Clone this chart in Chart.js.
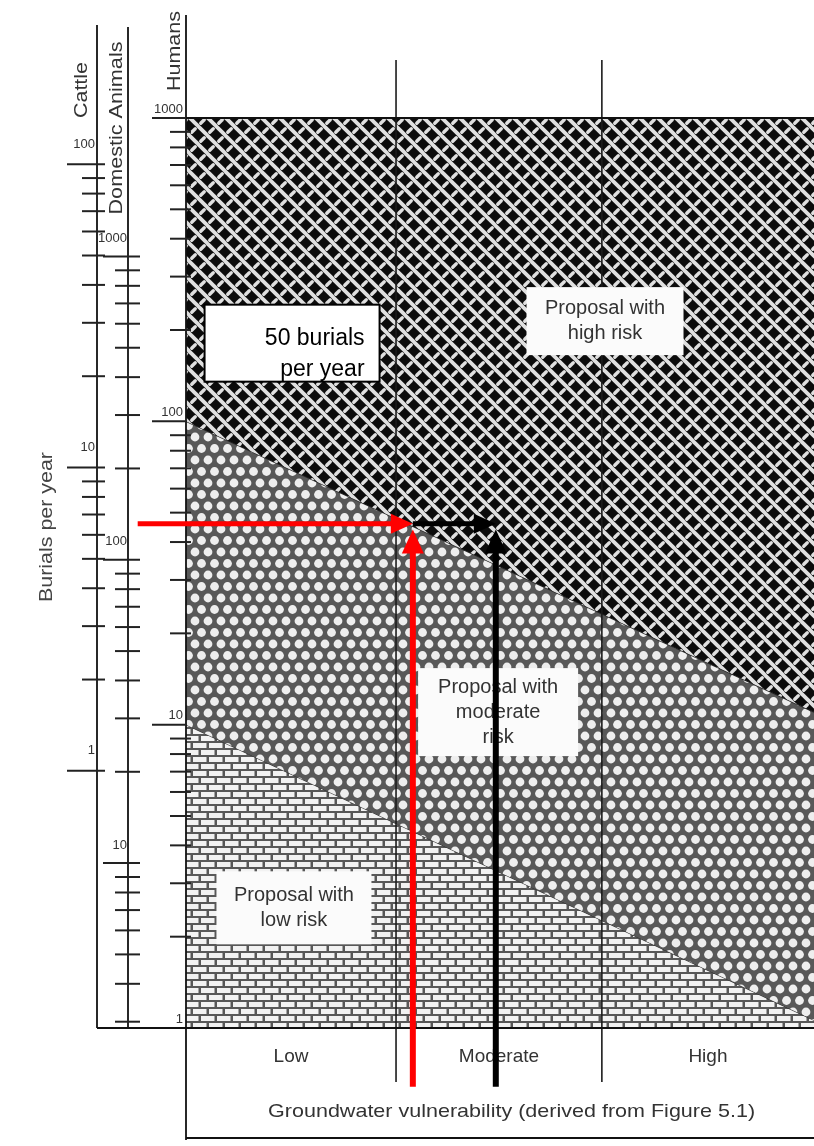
<!DOCTYPE html>
<html><head><meta charset="utf-8">
<script src="https://cdn.jsdelivr.net/npm/chart.js@4.4.1/dist/chart.umd.min.js"></script>
<style>html,body{margin:0;padding:0;background:#fff}canvas{display:block}</style>
</head><body>
<canvas id="c" width="814" height="1146"></canvas>
<script>
// ---------------- DATA ----------------
const categories = ['Low', 'Moderate', 'High'];
const columnEdges = [0, 1, 1.98, 2.99];               // groundwater vulnerability column boundaries
const xAxisTitle = 'Groundwater vulnerability (derived from Figure 5.1)';
const yAxisTitle = 'Burials per year';
const axisTitles = ['Cattle', 'Domestic Animals', 'Humans'];

const humansRange = [1, 1000];
const cattleRange = [0.142, 142];
const domesticRange = [2.86, 2860];

const humansMajor = [1, 10, 100, 1000];
const humansMinor = [2,3,4,5,6,7,8,9,20,30,40,50,60,70,80,90,200,300,400,500,600,700,800,900];
const cattleMajor = [1, 10, 100];
const cattleMinor = [2,3,4,5,6,7,8,9,20,30,40,50,60,70,80,90];
const domesticMajor = [10, 100, 1000];
const domesticMinor = [3,4,5,6,7,8,9,20,30,40,50,60,70,80,90,200,300,400,500,600,700,800,900];

const boundaryX = [0, 2.99];
const topBoundary = [1000, 1000];
const highModerateBoundary = [100, 11];
const moderateLowBoundary = [10, 1.06];

const arrowLevel = 46;            // burials per year (humans scale)
const redArrowX = [-0.23, 1.08];
const blackArrowX = [1.08, 1.475];
const verticalArrowY = [0.64, 44];
const redVerticalX = 1.08;
const blackVerticalX = 1.475;

const regionLabelText = [['Proposal with', 'high risk'], ['Proposal with', 'moderate', 'risk'], ['Proposal with', 'low risk']];
const calloutText = ['50 burials', 'per year'];

// ---------------- LAYOUT (positions in data coords / pixels) ----------------
const regionLabelAnchor = [{x: 1.995, y: 214, w: 157, h: 68}, {x: 1.486, y: 11.0, w: 160, h: 88}, {x: 0.514, y: 2.49, w: 155, h: 73}];
const calloutAnchor = {x: 0.505, y: 181, w: 175, h: 77};
const AX = {cattle: 97, dom: 128, top: 25};

// ---------------- PATTERNS ----------------
function mk(w, h) { const c = document.createElement('canvas'); c.width = w; c.height = h; return c; }
function weavePattern() {
  const s = 18, c = mk(s, s), g = c.getContext('2d');
  g.fillStyle = '#0c0c0c'; g.fillRect(0, 0, s, s);
  g.strokeStyle = '#e0e0e0'; g.lineCap = 'round';
  const bars = [[4.5, 4.5, 1, 10.5, 3.8], [13.5, 13.5, 1, 10.5, 3.8], [13.5, 4.5, -1, 5, 3.4], [4.5, 13.5, -1, 5, 3.4]];
  for (const [cx, cy, d, L, lw] of bars) for (const ox of [-s, 0, s]) for (const oy of [-s, 0, s]) {
    const h = L / 2 / Math.SQRT2; g.lineWidth = lw;
    g.beginPath(); g.moveTo(cx + ox - h, cy + oy - d * h); g.lineTo(cx + ox + h, cy + oy + d * h); g.stroke();
  }
  return g.createPattern(c, 'repeat');
}
function circlePattern() {
  const c = mk(13, 23), g = c.getContext('2d');
  g.fillStyle = '#585858'; g.fillRect(0, 0, 13, 23);
  g.fillStyle = '#eeeeee';
  for (const [x, y] of [[0, 0], [13, 0], [0, 23], [13, 23], [6.5, 11.5]]) { g.beginPath(); g.arc(x, y, 4.4, 0, Math.PI * 2); g.fill(); }
  return g.createPattern(c, 'repeat');
}
function brickPattern() {
  const w = 16, h = 14, c = mk(w, h), g = c.getContext('2d');
  g.fillStyle = '#585858'; g.fillRect(0, 0, w, h);
  g.fillStyle = '#f2f2f2';
  g.fillRect(1, 1, 13.5, 5);
  g.fillRect(-7, 8, 13.5, 5); g.fillRect(9, 8, 13.5, 5);
  return g.createPattern(c, 'repeat');
}

const pts = arr => boundaryX.map((x, i) => ({x, y: arr[i]}));

// ---------------- DRAW HELPERS ----------------
function seg(ctx, x1, y1, x2, y2) { ctx.beginPath(); ctx.moveTo(x1, y1); ctx.lineTo(x2, y2); ctx.stroke(); }
function text(ctx, s, x, y, size, color, align, width) {
  ctx.save(); ctx.font = size + 'px "Liberation Sans", Arial, sans-serif'; ctx.fillStyle = color;
  ctx.textBaseline = 'middle'; ctx.textAlign = align || 'center';
  if (width) { const m = ctx.measureText(s).width; ctx.translate(x, y); ctx.scale(width / m, 1); ctx.fillText(s, 0, 0); }
  else ctx.fillText(s, x, y);
  ctx.restore();
}
function vtext(ctx, s, x, y, size, color, len) {
  ctx.save(); ctx.font = size + 'px "Liberation Sans", Arial, sans-serif'; ctx.fillStyle = color;
  ctx.textBaseline = 'middle'; ctx.textAlign = 'center';
  ctx.translate(x, y); ctx.rotate(-Math.PI / 2);
  if (len) { const m = ctx.measureText(s).width; ctx.scale(len / m, 1); }
  ctx.fillText(s, 0, 0); ctx.restore();
}
function arrow(ctx, x1, y1, x2, y2, color, lw, hl, hw) {
  const a = Math.atan2(y2 - y1, x2 - x1);
  const bx = x2 - hl * Math.cos(a), by = y2 - hl * Math.sin(a);
  ctx.save(); ctx.strokeStyle = color; ctx.fillStyle = color; ctx.lineWidth = lw; ctx.lineCap = 'butt';
  seg(ctx, x1, y1, bx + Math.cos(a), by + Math.sin(a));
  ctx.beginPath(); ctx.moveTo(x2, y2);
  ctx.lineTo(bx - hw * Math.sin(a), by + hw * Math.cos(a));
  ctx.lineTo(bx + hw * Math.sin(a), by - hw * Math.cos(a));
  ctx.closePath(); ctx.fill(); ctx.restore();
}

const decor = {
  id: 'decor',
  afterDatasetsDraw(chart) {
    const ctx = chart.ctx, ca = chart.chartArea;
    const xs = chart.scales.x, yh = chart.scales.y, yc = chart.scales.yCattle, yd = chart.scales.yDom;
    const HX = ca.left;
    ctx.save();
    // column dividers
    ctx.strokeStyle = '#1c1c1c'; ctx.lineWidth = 1.6;
    columnEdges.slice(1, -1).forEach(v => { const px = xs.getPixelForValue(v); seg(ctx, px, 60, px, 1082); });
    // frame lines
    ctx.strokeStyle = '#111'; ctx.lineWidth = 2;
    seg(ctx, HX, ca.top, ca.right, ca.top);
    seg(ctx, AX.cattle, ca.bottom, ca.right, ca.bottom);
    seg(ctx, HX, 1138, ca.right, 1138);
    ctx.lineWidth = 1.8;
    seg(ctx, HX, 15, HX, 1140);
    seg(ctx, AX.cattle, AX.top, AX.cattle, ca.bottom);
    seg(ctx, AX.dom, AX.top + 2, AX.dom, ca.bottom);
    // ticks
    ctx.strokeStyle = '#222'; ctx.lineWidth = 2;
    humansMinor.forEach(v => { const p = yh.getPixelForValue(v); seg(ctx, HX - 16, p, HX + 5, p); });
    humansMajor.forEach(v => { const p = yh.getPixelForValue(v); if (v > humansRange[0]) seg(ctx, HX - 34, p, HX, p); });
    cattleMinor.forEach(v => { const p = yc.getPixelForValue(v); seg(ctx, AX.cattle - 15, p, AX.cattle + 8, p); });
    cattleMajor.forEach(v => { const p = yc.getPixelForValue(v); seg(ctx, AX.cattle - 30, p, AX.cattle + 8, p); });
    domesticMinor.forEach(v => { const p = yd.getPixelForValue(v); seg(ctx, AX.dom - 13, p, AX.dom + 12, p); });
    domesticMajor.forEach(v => { const p = yd.getPixelForValue(v); seg(ctx, AX.dom - 25, p, AX.dom + 12, p); });
    // tick labels
    humansMajor.forEach(v => text(ctx, String(v), HX - 3, yh.getPixelForValue(v) - 9, 13, '#333', 'right'));
    cattleMajor.forEach(v => text(ctx, String(v), AX.cattle - 2, yc.getPixelForValue(v) - 20, 13, '#333', 'right'));
    domesticMajor.forEach(v => text(ctx, String(v), AX.dom - 1, yd.getPixelForValue(v) - 18, 13, '#333', 'right'));
    // axis titles
    vtext(ctx, axisTitles[0], 82, 90, 19, '#333', 56);
    vtext(ctx, axisTitles[1], 117, 128, 19, '#333', 173);
    vtext(ctx, axisTitles[2], 175, 51, 19, '#333', 80);
    vtext(ctx, yAxisTitle, 47, 527, 18, '#444', 150);
    // category labels
    categories.forEach((c, i) => {
      const px = xs.getPixelForValue((columnEdges[i] + columnEdges[i + 1]) / 2);
      text(ctx, c, px, 1057, 19, '#333', 'center');
    });
    text(ctx, xAxisTitle, xs.getPixelForValue(1.55), 1112, 19, '#333', 'center', 487);
    // region labels
    regionLabelText.forEach((lines, i) => {
      const a = regionLabelAnchor[i];
      const cx = xs.getPixelForValue(a.x), cy = yh.getPixelForValue(a.y);
      ctx.fillStyle = '#fbfbfb'; ctx.fillRect(cx - a.w / 2, cy - a.h / 2, a.w, a.h);
      const n = lines.length, lh = 25;
      lines.forEach((s, j) => text(ctx, s, cx, cy + (j - (n - 1) / 2) * lh, 20, '#333', 'center'));
    });
    // callout box
    {
      const a = calloutAnchor;
      const cx = xs.getPixelForValue(a.x), cy = yh.getPixelForValue(a.y);
      ctx.fillStyle = '#fff'; ctx.fillRect(cx - a.w / 2, cy - a.h / 2, a.w, a.h);
      ctx.strokeStyle = '#000'; ctx.lineWidth = 2; ctx.strokeRect(cx - a.w / 2, cy - a.h / 2, a.w, a.h);
      text(ctx, calloutText[0], cx + a.w / 2 - 15, cy - 5, 23, '#000', 'right');
      text(ctx, calloutText[1], cx + a.w / 2 - 15, cy + 26, 23, '#000', 'right');
    }
    // arrows
    const ay = yh.getPixelForValue(arrowLevel);
    arrow(ctx, xs.getPixelForValue(redArrowX[0]), ay, xs.getPixelForValue(redArrowX[1]), ay, '#ff0000', 5, 22, 10);
    arrow(ctx, xs.getPixelForValue(blackArrowX[0]), ay, xs.getPixelForValue(blackArrowX[1]), ay, '#000', 5, 22, 10);
    arrow(ctx, xs.getPixelForValue(redVerticalX), yh.getPixelForValue(verticalArrowY[0]), xs.getPixelForValue(redVerticalX), yh.getPixelForValue(verticalArrowY[1]), '#ff0000', 6, 24, 11);
    arrow(ctx, xs.getPixelForValue(blackVerticalX), yh.getPixelForValue(verticalArrowY[0]), xs.getPixelForValue(blackVerticalX), yh.getPixelForValue(verticalArrowY[1]), '#000', 6, 24, 11);
    ctx.restore();
  }
};

new Chart(document.getElementById('c'), {
  type: 'line',
  data: {
    datasets: [
      {label: 'High risk', data: pts(topBoundary), fill: '+1', backgroundColor: weavePattern(), borderColor: '#111', borderWidth: 2, pointRadius: 0},
      {label: 'Moderate risk', data: pts(highModerateBoundary), fill: '+1', backgroundColor: circlePattern(), borderColor: '#2a2a2a', borderWidth: 1.2, pointRadius: 0},
      {label: 'Low risk', data: pts(moderateLowBoundary), fill: 'start', backgroundColor: brickPattern(), borderColor: '#2a2a2a', borderWidth: 1.2, pointRadius: 0}
    ]
  },
  options: {
    responsive: false, animation: false, devicePixelRatio: 1,
    layout: {padding: {left: 186, right: 0, top: 118, bottom: 118}},
    plugins: {legend: {display: false}, tooltip: {enabled: false}},
    scales: {
      x: {type: 'linear', min: columnEdges[0], max: columnEdges[3], display: false},
      y: {type: 'logarithmic', min: humansRange[0], max: humansRange[1], display: false},
      yCattle: {type: 'logarithmic', position: 'left', min: cattleRange[0], max: cattleRange[1], display: false},
      yDom: {type: 'logarithmic', position: 'left', min: domesticRange[0], max: domesticRange[1], display: false}
    }
  },
  plugins: [decor]
});
</script>
</body></html>
